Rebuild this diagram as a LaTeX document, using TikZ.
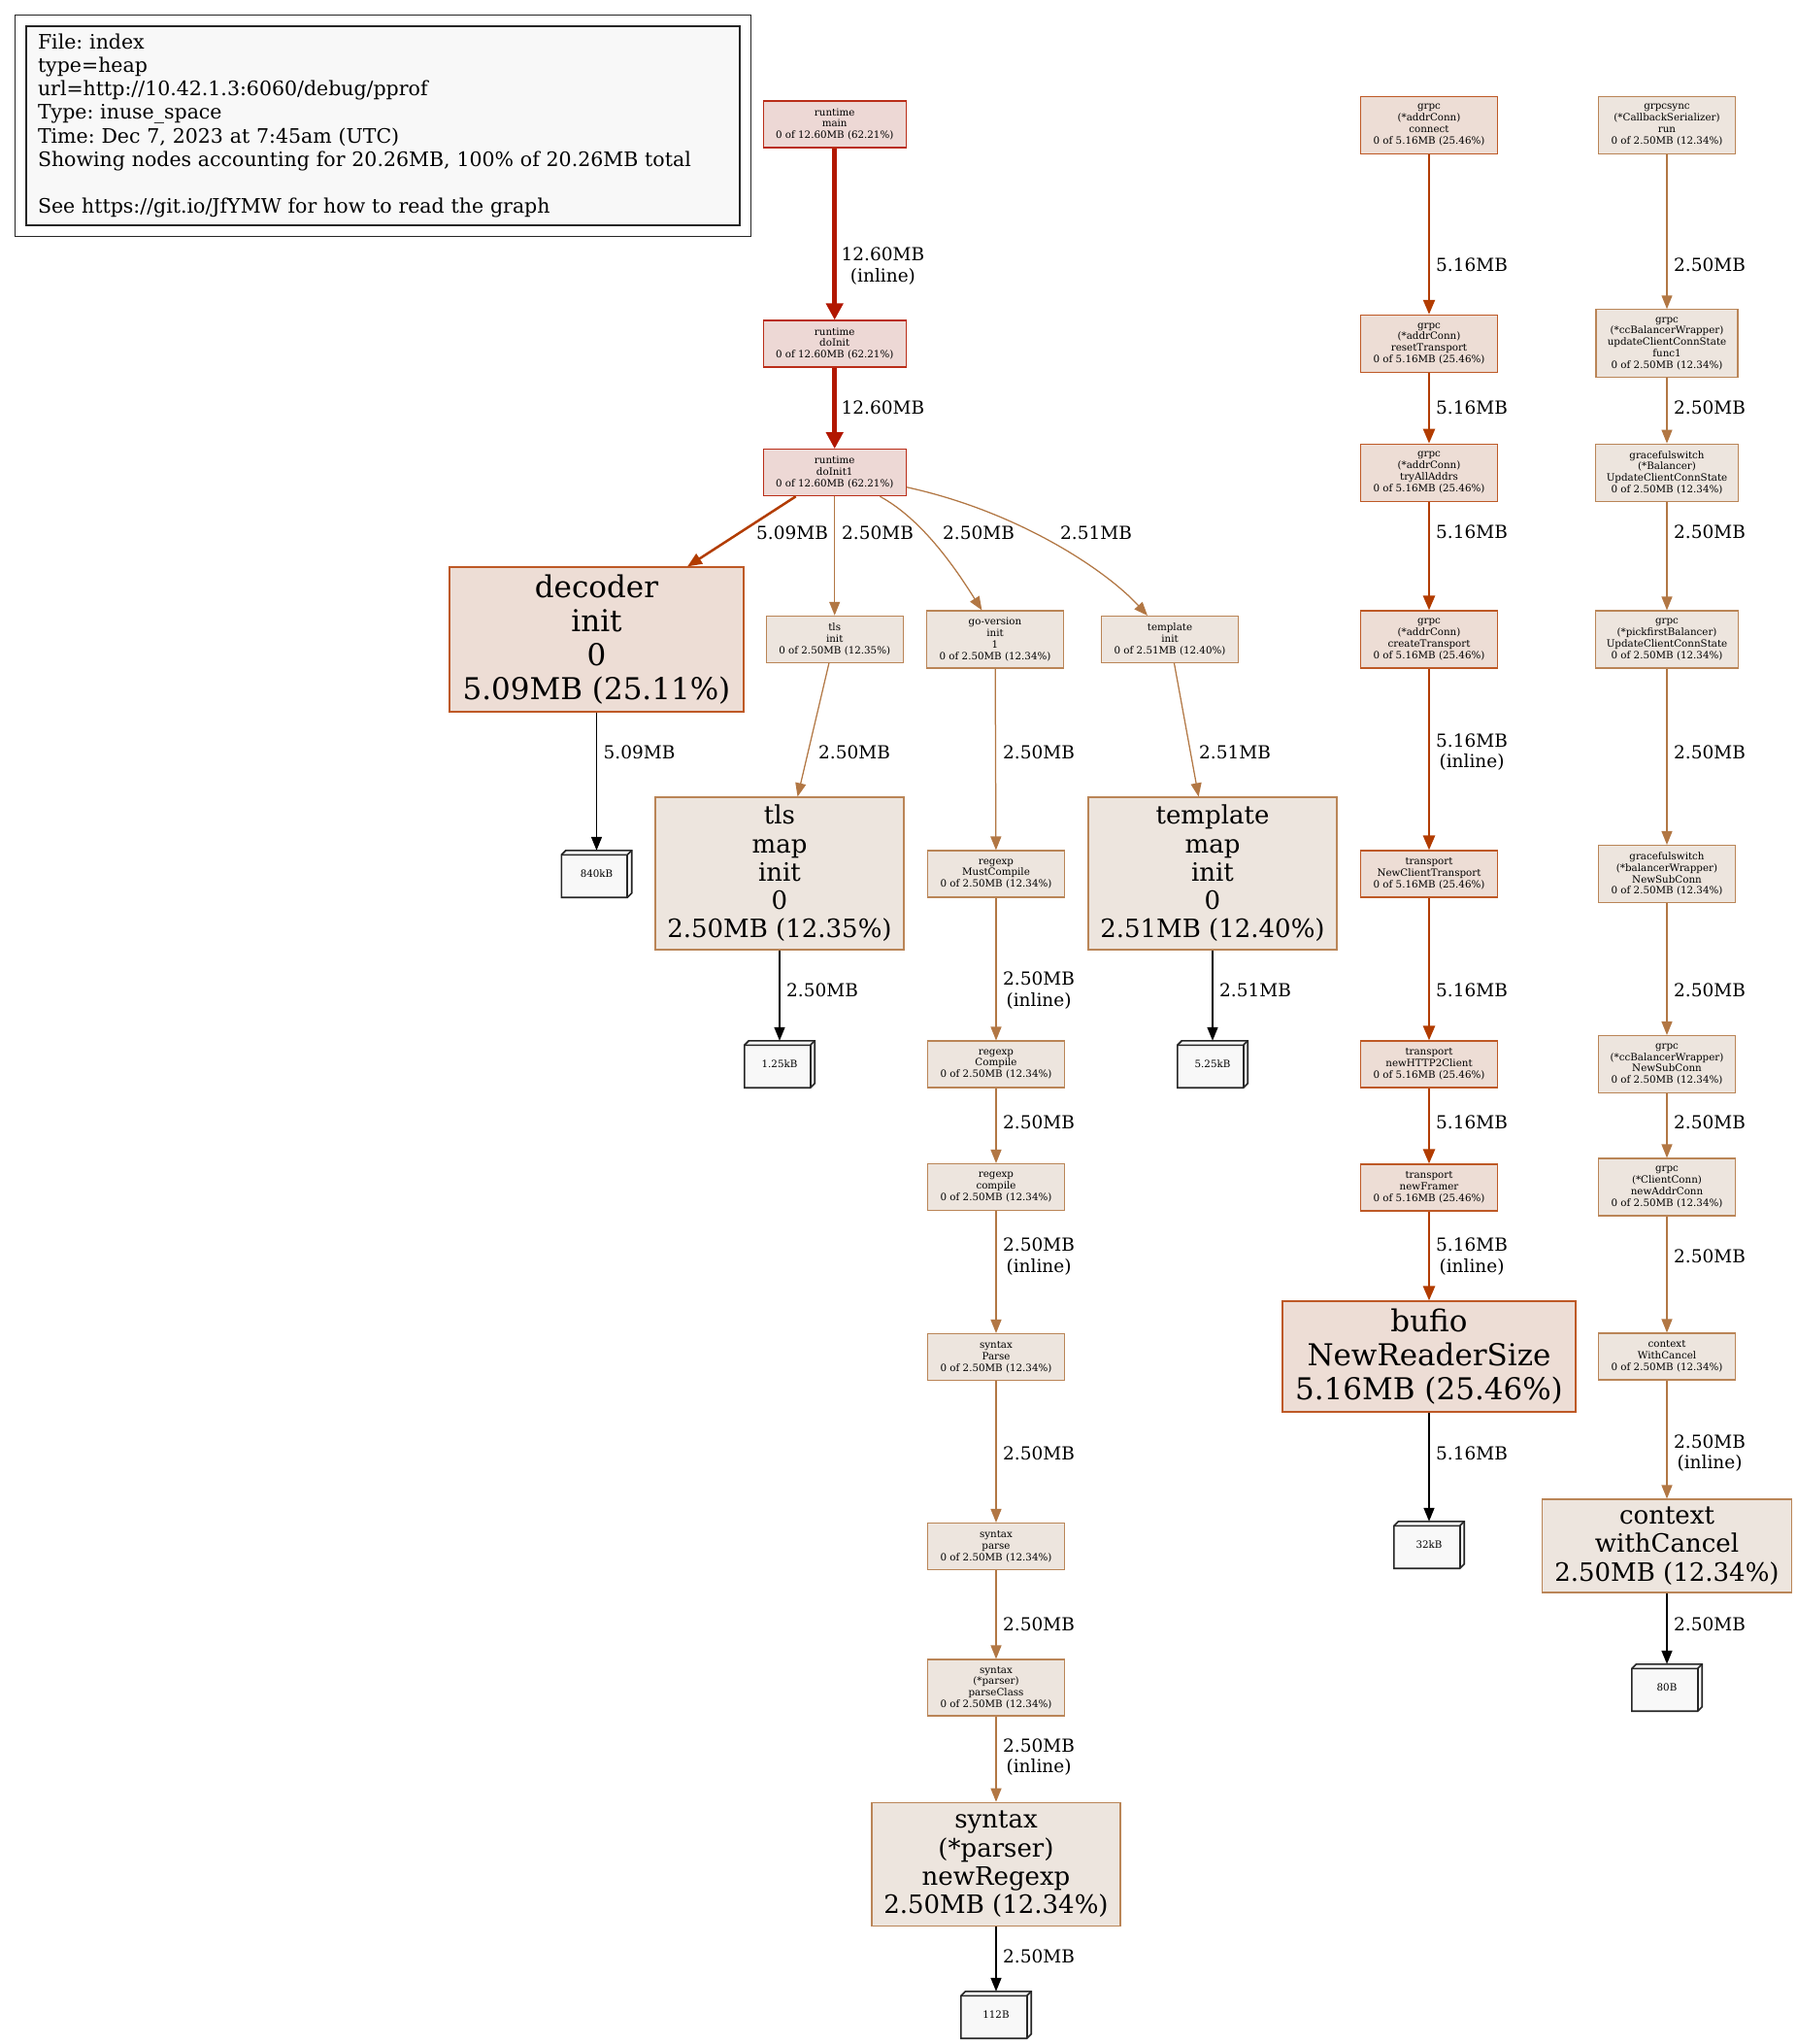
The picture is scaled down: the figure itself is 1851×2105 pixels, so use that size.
\documentclass[tikz,border=0pt]{standalone}
\usepackage{fontspec}
\setmainfont{DejaVu Serif}
\usetikzlibrary{arrows.meta,backgrounds}
\frenchspacing
\definecolor{cRedE}{HTML}{B21700}
\definecolor{cRedF}{HTML}{EDD8D5}
\definecolor{cOrE}{HTML}{B23C00}
\definecolor{cOrF}{HTML}{EDDDD5}
\definecolor{cBrE}{HTML}{B27744}
\definecolor{cBrF}{HTML}{EDE5DE}
\definecolor{cLeaf}{HTML}{F8F8F8}
\newcommand\fsmall{\fontsize{10.3pt}{11.8pt}\selectfont}
\newcommand\fedge{\fontsize{18.5pt}{21.5pt}\selectfont}
\newcommand\flegend{\fontsize{20.5pt}{24.2pt}\selectfont}
\newcommand\fbigA{\fontsize{31pt}{35.2pt}\selectfont}
\newcommand\fbigB{\fontsize{26pt}{29.3pt}\selectfont}
\newcommand\boxthreed[1]{%
 \begin{pgfonlayer}{background}
 \draw[leafline, fill=cLeaf] ([yshift=-4.5pt]#1.north west) -- ([xshift=4.5pt]#1.north west) -- (#1.north east) -- ([yshift=4.5pt]#1.south east) -- ([xshift=-4.5pt]#1.south east) -- (#1.south west) -- cycle;
 \draw[leafline] ([yshift=-4.5pt]#1.north west) -- ([xshift=-4.5pt,yshift=-4.5pt]#1.north east) -- (#1.north east);
 \draw[leafline] ([xshift=-4.5pt,yshift=-4.5pt]#1.north east) -- ([xshift=-4.5pt]#1.south east);
 \end{pgfonlayer}}
\tikzset{
 fn/.style={rectangle, draw, line width=1.1pt, inner sep=0pt, align=center},
 sm/.style={fn, font=\fsmall, minimum width=141pt, minimum height=48pt},
 bigA/.style={fn, font=\fbigA},
 bigB/.style={fn, font=\fbigB},
 red/.style={draw=cRedE!90!white, fill=cRedF},
 org/.style={draw=cOrE!85!white, fill=cOrF},
 brn/.style={draw=cBrE!90!white, fill=cBrF},
 leaf/.style={rectangle, inner sep=0pt, minimum width=72pt, minimum height=48pt, font=\fsmall},
 leafline/.style={line width=1.6pt, draw=black!85, line join=miter},
 elab/.style={anchor=west, inner sep=0pt, align=center, font=\fedge},
 eFour/.style={line width=5pt, draw=cRedE, -{Triangle[length=17pt,width=17pt]}},
 eTwo/.style={line width=2.5pt, draw=cOrE, -{Triangle[length=15pt,width=12pt]}},
 eOne/.style={line width=1.25pt, draw=cBrE, -{Triangle[length=14pt,width=11pt]}},
 eBlk/.style={line width=1.5pt, draw=black, -{Triangle[length=14pt,width=11pt]}},
}
\begin{document}
\begin{tikzpicture}[x=1pt,y=-1pt]
\useasboundingbox (0,0) rectangle (1851,2105);
\begin{pgfonlayer}{background}
\fill[white] (0,0) rectangle (1851,2105);
\end{pgfonlayer}

% legend
\node[rectangle, draw=black!85, line width=1.2pt, fill=cLeaf, inner xsep=12pt, inner ysep=0pt,
  text width=711pt, minimum height=205pt, align=left, font=\flegend] (legend) at (394.5,129.5)
 {File: index\\type=heap\\url=http://10.42.1.3:6060/debug/pprof\\Type: inuse\_space\\Time: Dec 7, 2023 at 7:45am (UTC)\\Showing nodes accounting for 20.26MB, 100\% of 20.26MB total\\[24.2pt]See https://git.io/JfYMW for how to read the graph};
\draw[draw=black!85, line width=1.2pt] ([xshift=-11pt,yshift=11pt]legend.north west) rectangle ([xshift=11pt,yshift=-11pt]legend.south east);

% runtime column
\node[sm, red, minimum width=147pt] (rmain) at (859.7,128) {runtime\\main\\0 of 12.60MB (62.21\%)};
\node[sm, red, minimum width=147pt] (rdoinit) at (859.7,354) {runtime\\doInit\\0 of 12.60MB (62.21\%)};
\node[sm, red, minimum width=147pt] (rdoinit1) at (859.7,486.7) {runtime\\doInit1\\0 of 12.60MB (62.21\%)};
\node[bigA, org, minimum width=303pt, minimum height=149pt] (decoder) at (614.5,658.5) {decoder\\init\\0\\5.09MB (25.11\%)};
\node[sm, brn] (tlsinit) at (859.7,658.3) {tls\\init\\0 of 2.50MB (12.35\%)};
\node[sm, brn, minimum height=59pt] (gover) at (1025,658.5) {go-version\\init\\1\\0 of 2.50MB (12.34\%)};
\node[sm, brn] (tmplinit) at (1205,658.5) {template\\init\\0 of 2.51MB (12.40\%)};
\node[bigB, brn, minimum width=256pt, minimum height=157pt] (tlsmap) at (803,899.5) {tls\\map\\init\\0\\2.50MB (12.35\%)};
\node[bigB, brn, minimum width=256pt, minimum height=157pt] (tmplmap) at (1249,899.5) {template\\map\\init\\0\\2.51MB (12.40\%)};
\node[leaf] (leafA) at (614.5,900) {840kB};
\node[sm, brn] (mustc) at (1026,900) {regexp\\MustCompile\\0 of 2.50MB (12.34\%)};
\node[leaf] (leafB) at (803,1096) {1.25kB};
\node[leaf] (leafC) at (1249,1096) {5.25kB};
\node[sm, brn] (rcompU) at (1026,1096) {regexp\\Compile\\0 of 2.50MB (12.34\%)};
\node[sm, brn] (rcomp) at (1026,1222.5) {regexp\\compile\\0 of 2.50MB (12.34\%)};
\node[sm, brn] (sParseU) at (1026,1397.5) {syntax\\Parse\\0 of 2.50MB (12.34\%)};
\node[sm, brn] (sparse) at (1026,1592.5) {syntax\\parse\\0 of 2.50MB (12.34\%)};
\node[sm, brn, minimum height=58pt] (sclass) at (1026,1738) {syntax\\(*parser)\\parseClass\\0 of 2.50MB (12.34\%)};
\node[bigB, brn, minimum width=256pt, minimum height=127.5pt] (newre) at (1026,1920) {syntax\\(*parser)\\newRegexp\\2.50MB (12.34\%)};
\node[leaf] (leafD) at (1026,2075) {112B};

% grpc column
\node[sm, org, minimum height=59pt] (gconn) at (1472,128.7) {grpc\\(*addrConn)\\connect\\0 of 5.16MB (25.46\%)};
\node[sm, org, minimum height=59pt] (greset) at (1472,353.8) {grpc\\(*addrConn)\\resetTransport\\0 of 5.16MB (25.46\%)};
\node[sm, org, minimum height=59pt] (gtry) at (1472,486.7) {grpc\\(*addrConn)\\tryAllAddrs\\0 of 5.16MB (25.46\%)};
\node[sm, org, minimum height=59pt] (gcreate) at (1472,658.5) {grpc\\(*addrConn)\\createTransport\\0 of 5.16MB (25.46\%)};
\node[sm, org] (tnewct) at (1472,900) {transport\\NewClientTransport\\0 of 5.16MB (25.46\%)};
\node[sm, org] (tnewh) at (1472,1096) {transport\\newHTTP2Client\\0 of 5.16MB (25.46\%)};
\node[sm, org] (tframer) at (1472,1223) {transport\\newFramer\\0 of 5.16MB (25.46\%)};
\node[bigA, org, minimum width=302pt, minimum height=114pt] (bufio) at (1472,1397) {bufio\\NewReaderSize\\5.16MB (25.46\%)};
\node[leaf] (leafE) at (1472,1591) {32kB};

% right column
\node[sm, brn, minimum height=59pt] (gsrun) at (1717,128.7) {grpcsync\\(*CallbackSerializer)\\run\\0 of 2.50MB (12.34\%)};
\node[sm, brn, minimum width=146pt, minimum height=70pt] (ccfunc) at (1717,353.8) {grpc\\(*ccBalancerWrapper)\\updateClientConnState\\func1\\0 of 2.50MB (12.34\%)};
\node[sm, brn, minimum width=147pt, minimum height=59pt] (gsbal) at (1717,486.7) {gracefulswitch\\(*Balancer)\\UpdateClientConnState\\0 of 2.50MB (12.34\%)};
\node[sm, brn, minimum width=147pt, minimum height=59pt] (pfbal) at (1717,658.5) {grpc\\(*pickfirstBalancer)\\UpdateClientConnState\\0 of 2.50MB (12.34\%)};
\node[sm, brn, minimum height=59pt] (gsbw) at (1717,900) {gracefulswitch\\(*balancerWrapper)\\NewSubConn\\0 of 2.50MB (12.34\%)};
\node[sm, brn, minimum height=59pt] (ccnsc) at (1717,1096) {grpc\\(*ccBalancerWrapper)\\NewSubConn\\0 of 2.50MB (12.34\%)};
\node[sm, brn, minimum height=59pt] (ccnac) at (1717,1222.5) {grpc\\(*ClientConn)\\newAddrConn\\0 of 2.50MB (12.34\%)};
\node[sm, brn] (ctxWC) at (1717,1397) {context\\WithCancel\\0 of 2.50MB (12.34\%)};
\node[bigB, brn, minimum width=257pt, minimum height=96pt] (ctxwc) at (1717,1592) {context\\withCancel\\2.50MB (12.34\%)};
\node[leaf] (leafF) at (1717,1738) {80B};

\boxthreed{leafA}\boxthreed{leafB}\boxthreed{leafC}\boxthreed{leafD}\boxthreed{leafE}\boxthreed{leafF}

% edges runtime
\draw[eFour] (rmain) -- (rdoinit);
\draw[eFour] (rdoinit) -- (rdoinit1);
\draw[eTwo] ([xshift=-40pt]rdoinit1.south) -- ([xshift=93.5pt]decoder.north);
\draw[eOne] (rdoinit1) -- (tlsinit);
\draw[eOne] ([xshift=46.7pt]rdoinit1.south) .. controls (950,535) and (984,585) .. ([xshift=-13.6pt]gover.north);
\draw[eOne] ([yshift=-15pt]rdoinit1.east) .. controls (1050,527) and (1140,588) .. ([xshift=-23pt]tmplinit.north);
\draw[eBlk] (decoder) -- (leafA);
\draw[eOne] (tlsinit) -- (tlsmap);
\draw[eOne] (gover) -- (mustc);
\draw[eOne] (tmplinit) -- (tmplmap);
\draw[eBlk] (tlsmap) -- (leafB);
\draw[eBlk] (tmplmap) -- (leafC);
\draw[eOne] (mustc) -- (rcompU);
\draw[eOne] (rcompU) -- (rcomp);
\draw[eOne] (rcomp) -- (sParseU);
\draw[eOne] (sParseU) -- (sparse);
\draw[eOne] (sparse) -- (sclass);
\draw[eOne] (sclass) -- (newre);
\draw[eBlk] (newre) -- (leafD);
% edges grpc
\draw[eTwo] (gconn) -- (greset);
\draw[eTwo] (greset) -- (gtry);
\draw[eTwo] (gtry) -- (gcreate);
\draw[eTwo] (gcreate) -- (tnewct);
\draw[eTwo] (tnewct) -- (tnewh);
\draw[eTwo] (tnewh) -- (tframer);
\draw[eTwo] (tframer) -- (bufio);
\draw[eBlk] (bufio) -- (leafE);
% edges right
\draw[eOne] (gsrun) -- (ccfunc);
\draw[eOne] (ccfunc) -- (gsbal);
\draw[eOne] (gsbal) -- (pfbal);
\draw[eOne] (pfbal) -- (gsbw);
\draw[eOne] (gsbw) -- (ccnsc);
\draw[eOne] (ccnsc) -- (ccnac);
\draw[eOne] (ccnac) -- (ctxWC);
\draw[eOne] (ctxWC) -- (ctxwc);
\draw[eBlk] (ctxwc) -- (leafF);

% edge labels
\node[elab] (la1) at (866.5,274) {12.60MB\\(inline)};
\node[elab] (la2) at (866.5,420) {12.60MB};
\node[elab] (la3) at (779,549) {5.09MB};
\node[elab] (la4) at (867,549) {2.50MB};
\node[elab] (la5) at (971,549) {2.50MB};
\node[elab] (la6) at (1092,549) {2.51MB};
\node[elab] (la7) at (621.5,774.5) {5.09MB};
\node[elab] (la8) at (843,774.5) {2.50MB};
\node[elab] (la9) at (1033,774.5) {2.50MB};
\node[elab] (la10) at (1235,774.5) {2.51MB};
\node[elab] (la11) at (810,1020) {2.50MB};
\node[elab] (la12) at (1256,1020) {2.51MB};
\node[elab] (la13) at (1033,1020) {2.50MB\\(inline)};
\node[elab] (la14) at (1033,1155.7) {2.50MB};
\node[elab] (la15) at (1033,1294) {2.50MB\\(inline)};
\node[elab] (la16) at (1033,1496.7) {2.50MB};
\node[elab] (la17) at (1033,1672.5) {2.50MB};
\node[elab] (la18) at (1033,1809.5) {2.50MB\\(inline)};
\node[elab] (la19) at (1033,2015) {2.50MB};

\node[elab] (lb1) at (1479,272.5) {5.16MB};
\node[elab] (lb2) at (1479,420) {5.16MB};
\node[elab] (lb3) at (1479,548) {5.16MB};
\node[elab] (lb4) at (1479,774.5) {5.16MB\\(inline)};
\node[elab] (lb5) at (1479,1020) {5.16MB};
\node[elab] (lb6) at (1479,1155.7) {5.16MB};
\node[elab] (lb7) at (1479,1294) {5.16MB\\(inline)};
\node[elab] (lb8) at (1479,1496.7) {5.16MB};

\node[elab] (lc1) at (1724,272.5) {2.50MB};
\node[elab] (lc2) at (1724,420) {2.50MB};
\node[elab] (lc3) at (1724,548) {2.50MB};
\node[elab] (lc4) at (1724,774.5) {2.50MB};
\node[elab] (lc5) at (1724,1020) {2.50MB};
\node[elab] (lc6) at (1724,1155.7) {2.50MB};
\node[elab] (lc7) at (1724,1294) {2.50MB};
\node[elab] (lc8) at (1724,1496.7) {2.50MB\\(inline)};
\node[elab] (lc9) at (1724,1672.5) {2.50MB};
\end{tikzpicture}
\end{document}
